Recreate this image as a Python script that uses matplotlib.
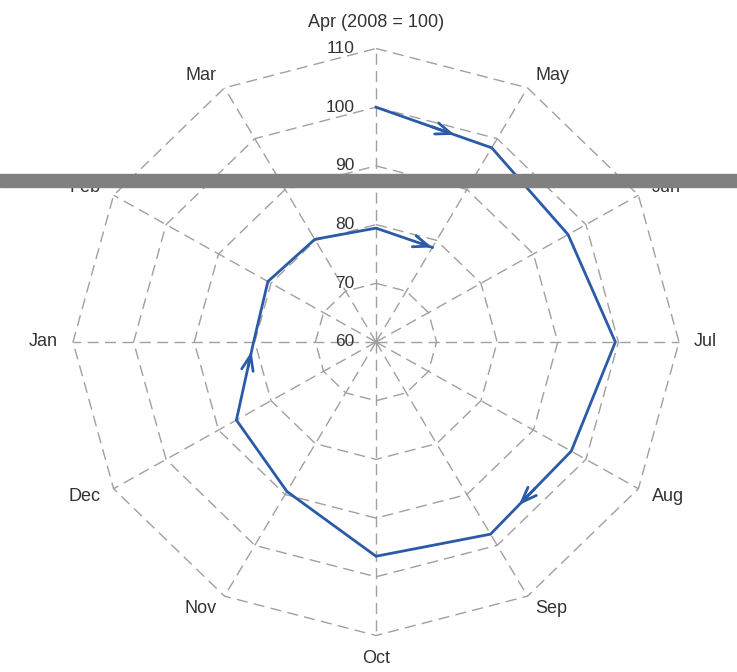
import matplotlib.pyplot as plt
import numpy as np
from matplotlib.patches import Rectangle

# month axes, clockwise from the top
months = ["Apr", "May", "Jun", "Jul", "Aug", "Sep",
          "Oct", "Nov", "Dec", "Jan", "Feb", "Mar"]
title_label = "Apr (2008 = 100)"

# index path: Apr 2008 -> May 2009
path_months = ["Apr", "May", "Jun", "Jul", "Aug", "Sep", "Oct",
               "Nov", "Dec", "Jan", "Feb", "Mar", "Apr", "May"]
values = [100, 98.2, 96.6, 99.5, 97.2, 97.8, 96.5,
          89.4, 86.6, 80.2, 80.6, 80.2, 79.4, 78.6]

ring_values = [60, 70, 80, 90, 100, 110]
r_min = 60

# where the open arrow heads sit: (segment start index, fraction along it)
arrow_marks = [(0, 0.68), (4, 0.65), (8, 0.88), (12, 1.0)]

plt.rcParams['font.family'] = ['Liberation Sans', 'DejaVu Sans']

fig = plt.figure(figsize=(7.37, 6.72), dpi=100)
ax = fig.add_axes([0, 0, 1, 1])

grid_kw = dict(color='#a0a0a0', lw=1.0, linestyle=(0, (8, 4.5)), zorder=1)

n = len(months)
theta = np.arange(n) * 2 * np.pi / n


def to_xy(th, val):
    r = np.asarray(val) - r_min
    return r * np.sin(th), r * np.cos(th)


# polygon rings
for rv in ring_values[1:]:
    th = np.append(theta, theta[0])
    x, y = to_xy(th, np.full(len(th), rv))
    ax.plot(x, y, **grid_kw)

# spokes
for th in theta:
    x, y = to_xy(np.array([th, th]), np.array([r_min, ring_values[-1]]))
    ax.plot(x, y, **grid_kw)

# ring labels along the Apr spoke
for rv in ring_values:
    ax.text(-3.6, rv - r_min, str(rv), ha='right', va='center',
            fontsize=12.5, color='#333333')

# month labels
label_r = 112.5
for i, (m, th) in enumerate(zip(months, theta)):
    x, y = to_xy(th, label_r)
    s = np.sin(th)
    if abs(s) < 1e-6:
        ha = 'center'
    elif s > 0:
        ha = 'left'
    else:
        ha = 'right'
    c = np.cos(th)
    va = 'center'
    txt = m
    if i == 0:
        txt = title_label
        x, y = to_xy(th, 114.5)
    elif abs(s) < 1e-6 and c < 0:
        va = 'top'
    ax.text(x, y, txt, ha=ha, va=va, fontsize=13, color='#333333')

# the data path
path_theta = np.array([theta[months.index(m)] for m in path_months])
px, py = to_xy(path_theta, np.array(values))
line_color = '#2a5aa8'
ax.plot(px, py, color=line_color, lw=2.0, zorder=3, solid_joinstyle='miter')

for k, f in arrow_marks:
    tip = (px[k] + f * (px[k + 1] - px[k]), py[k] + f * (py[k + 1] - py[k]))
    back = (px[k] + (f - 0.2) * (px[k + 1] - px[k]),
            py[k] + (f - 0.2) * (py[k + 1] - py[k]))
    ax.annotate('', xy=tip, xytext=back,
                arrowprops=dict(arrowstyle='->,head_length=1.1,head_width=0.42',
                                color=line_color, lw=2.0, shrinkA=0, shrinkB=0),
                zorder=4)

# pixel mapping: centre at (376, 342) from top-left
sx, sy = 6.06, 5.87
ax.set_xlim(-376 / sx, (737 - 376) / sx)
ax.set_ylim(-(672 - 342) / sy, 342 / sy)
ax.axis('off')

# grey band crossing the scan
fig.patches.append(Rectangle((0, 1 - 187 / 672), 1, 13 / 672,
                             transform=fig.transFigure, color='#808080',
                             zorder=10))

plt.savefig("out.png", dpi=100)
